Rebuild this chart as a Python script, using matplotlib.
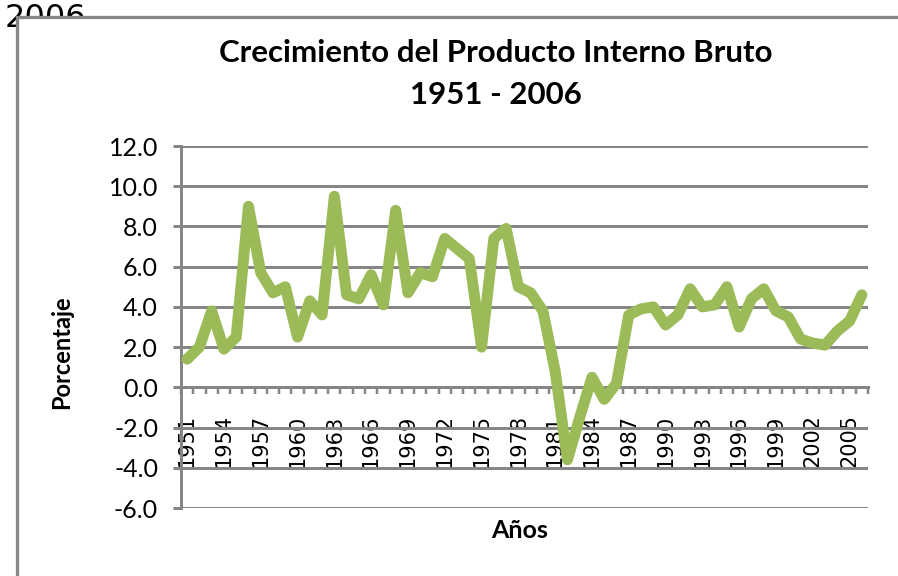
import matplotlib
matplotlib.use("Agg")
import matplotlib.pyplot as plt
import numpy as np
from matplotlib.patches import Rectangle

years = list(range(1951, 2007))
growth = [1.4, 2.0, 3.8, 1.9, 2.5, 9.0, 5.7, 4.7, 5.0, 2.5,
          4.3, 3.6, 9.5, 4.6, 4.4, 5.6, 4.1, 8.8, 4.7, 5.7,
          5.5, 7.4, 6.9, 6.4, 2.0, 7.4, 7.9, 5.0, 4.7, 3.8,
          0.8, -3.6, -1.5, 0.5, -0.6, 0.2, 3.6, 3.9, 4.0, 3.1,
          3.6, 4.9, 4.0, 4.1, 5.0, 3.0, 4.4, 4.9, 3.8, 3.5,
          2.4, 2.2, 2.1, 2.8, 3.3, 4.6]
yticks = [-6.0, -4.0, -2.0, 0.0, 2.0, 4.0, 6.0, 8.0, 10.0, 12.0]
title1 = "Crecimiento del Producto Interno Bruto"
title2 = "1951 - 2006"

W, H = 898, 576
fig = plt.figure(figsize=(W / 100, H / 100), dpi=100)
fig.patch.set_facecolor("white")

grid_c = "#868686"
px = 72 / 100  # points per pixel

# clipped text behind the chart frame
fig.text(5 / W, 1 - 3 / H, "2006", fontsize=23, family="DejaVu Sans",
         ha="left", va="top", zorder=0)
frame = Rectangle((17 / W, -0.1), 1.2, 1 - 17 / H + 0.1, transform=fig.transFigure,
                  facecolor="white", edgecolor=grid_c, lw=3.3 * px, zorder=1)
fig.patches.append(frame)

left, right, top, bottom = 181, 868, 146, 508
ax = fig.add_axes([left / W, 1 - bottom / H, (right - left) / W, (bottom - top) / H])
ax.set_zorder(2)
ax.patch.set_alpha(0)

x = np.arange(len(years))
ax.plot(x, growth, color="#9BBB59", lw=11 * px, solid_joinstyle="round",
        solid_capstyle="round", zorder=5, clip_on=False)

ax.set_xlim(-0.5, len(years) - 0.5)
ax.set_ylim(-6, 12)
ax.set_yticks(yticks)
ax.set_yticklabels([f"{v:.1f}" for v in yticks], fontsize=18, family="Lato")
ax.yaxis.grid(True, color=grid_c, lw=3 * px, zorder=1)
ax.set_axisbelow(True)

for s in ["top", "right"]:
    ax.spines[s].set_visible(False)
ax.spines["left"].set_color(grid_c)
ax.spines["left"].set_linewidth(3 * px)
ax.spines["bottom"].set_position(("data", 0))
ax.spines["bottom"].set_color(grid_c)
ax.spines["bottom"].set_linewidth(3 * px)
ax.tick_params(axis="y", direction="out", length=8 * px, width=3 * px, color=grid_c,
               pad=15 * px)

ax.set_xticks(np.arange(-0.5, len(years), 1.0), minor=True)
ax.set_xticks(x[::3])
ax.set_xticklabels([str(y) for y in years[::3]], rotation=90, fontsize=15,
                   family="DejaVu Sans", va="top")
ax.tick_params(axis="x", which="major", length=0, pad=27 * px)
ax.tick_params(axis="x", which="minor", direction="out", length=7 * px, width=2.5 * px,
               color=grid_c)

fig.text(62 / W, 1 - 352 / H, "Porcentaje", rotation=90, fontsize=17, family="Lato",
         weight="bold", ha="center", va="center")
fig.text(520 / W, 1 - 530 / H, "Años", fontsize=18, family="Lato", weight="bold",
         ha="center", va="center")
fig.text(496 / W, 1 - 53 / H, title1, fontsize=22.5, family="Lato", weight="bold",
         ha="center", va="center")
fig.text(496 / W, 1 - 95 / H, title2, fontsize=22.5, family="Lato", weight="bold",
         ha="center", va="center")

fig.savefig("out.png", dpi=100, facecolor="white")
